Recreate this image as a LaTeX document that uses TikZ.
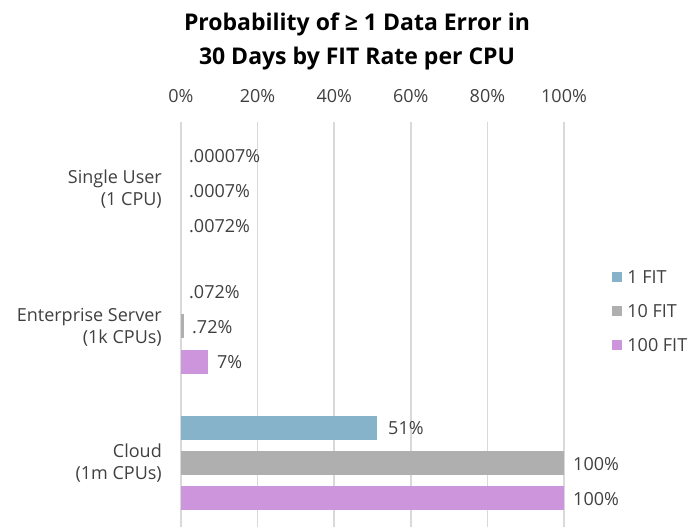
\documentclass[tikz,border=0pt]{standalone}
\usepackage{fontspec}
\setmainfont{Open Sans}
\usetikzlibrary{positioning}
\definecolor{fitone}{HTML}{86B2CA}
\definecolor{fitten}{HTML}{AFAFAF}
\definecolor{fithundred}{HTML}{CD95DC}
\definecolor{gridgray}{HTML}{D9D9D9}
\definecolor{labelgray}{HTML}{404040}
\begin{document}
\begin{tikzpicture}[x=1pt,y=-1pt,
    lbl/.style={font=\fontsize{18}{22}\selectfont, text=labelgray},
    val/.style={lbl, anchor=west, inner sep=0pt},
    cat/.style={lbl, anchor=east, align=right, inner sep=0pt},
    key/.style={minimum size=10pt, inner sep=0pt}]
  \useasboundingbox (0,0) rectangle (695,527);
  \node[font=\bfseries\fontsize{23}{34}\selectfont, align=center] (title) at (357,41) {Probability of ≥ 1 Data Error in\\30 Days by FIT Rate per CPU};
  % grid and percent scale on top
  \foreach \p in {0,20,...,100} {
    \draw [gridgray, line width=1.5pt] (181+3.83*\p,122) -- (181+3.83*\p,527);
    \node[lbl] (tick\p) at (181+3.83*\p,96) {\p\%};
  }
  % bars, 3.83 per percent
  \fill [fitten] (181,314) rectangle (183.8,338);
  \fill [fithundred] (181,349.5) rectangle (208,373.5);
  \fill [fitone] (181,415.5) rectangle (376.5,439.5);
  \fill [fitten] (181,451) rectangle (564,475);
  \fill [fithundred] (181,486) rectangle (564,510);
  % value labels
  \node[val] (su1) at (189,156) {.00007\%};
  \node[val] (su10) at (189,191) {.0007\%};
  \node[val] (su100) at (189,226) {.0072\%};
  \node[val] (es1) at (189,292) {.072\%};
  \node[val] (es10) at (192,327) {.72\%};
  \node[val] (es100) at (217,362) {7\%};
  \node[val] (cl1) at (388,428) {51\%};
  \node[val] (cl10) at (573,464) {100\%};
  \node[val] (cl100) at (573,499) {100\%};
  % categories
  \node[cat] (single) at (162,189) {Single User\\(1 CPU)};
  \node[cat] (enterprise) at (162,327) {Enterprise Server\\(1k CPUs)};
  \node[cat] (cloud) at (162,463) {Cloud\\(1m CPUs)};
  % legend
  \node[key, fill=fitone] (k1) at (617,277) {};
  \node[key, fill=fitten] (k10) at (617,311) {};
  \node[key, fill=fithundred] (k100) at (617,345) {};
  \node[val, right=5pt of k1] (l1) {1 FIT};
  \node[val, right=5pt of k10] (l10) {10 FIT};
  \node[val, right=5pt of k100] (l100) {100 FIT};
\end{tikzpicture}
\end{document}
